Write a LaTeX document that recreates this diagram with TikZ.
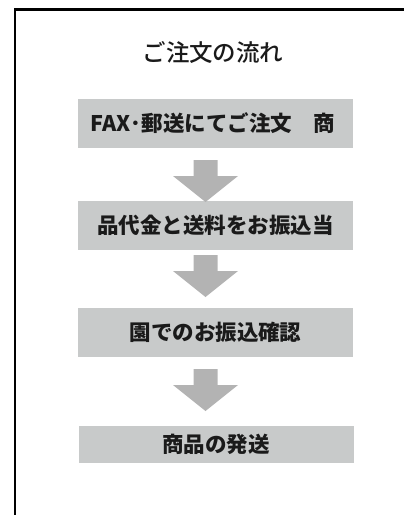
\documentclass[tikz,border=0pt]{standalone}
\usepackage{fontspec}
\newfontfamily\cjk{Noto Sans CJK JP}
\newfontfamily\cjkmed{Noto Sans CJK JP Medium}
\definecolor{boxgray}{HTML}{C8CACA}
\definecolor{arrowgray}{HTML}{B3B3B3}
\definecolor{ink}{HTML}{1A1A1A}
\begin{document}
\begin{tikzpicture}[x=1pt,y=-1pt,
  stepfont/.style={font=\cjk\bfseries\fontsize{21.5}{21.5}\selectfont,text=ink},
  stepbox/.style={fill=boxgray,draw=none,minimum width=275pt,inner sep=0pt,stepfont},
  titletext/.style={font=\cjkmed\fontsize{23.5}{23.5}\selectfont,text=ink},
  blockarrow/.pic={\fill[arrowgray] (-12,0) -- (12,0) -- (12,16) -- (32.5,16) -- (0,42) -- (-32.5,16) -- (-12,16) -- cycle;}]
\useasboundingbox (0,0) rectangle (404,515);
\draw[line width=2.5pt,black] (15,9.3) rectangle (440,560);
\node[titletext] (title) at (213,52) {ご注文の流れ};
\node[stepbox,minimum height=49pt] (s1) at (215.5,123.5) {};
\node[stepfont] (t1) at (213,123.5) {FAX･郵送にてご注文　商};
\node[stepbox,minimum height=49pt] (s2) at (215.5,225.5) {品代金と送料をお振込当};
\node[stepbox,minimum height=49pt] (s3) at (215.5,332) {園でのお振込確認};
\node[stepbox,minimum height=37pt] (s4) at (216,444.5) {商品の発送};
\pic at (205.5,160) {blockarrow};
\pic at (205.5,255) {blockarrow};
\pic at (205.5,369) {blockarrow};
\end{tikzpicture}
\end{document}
